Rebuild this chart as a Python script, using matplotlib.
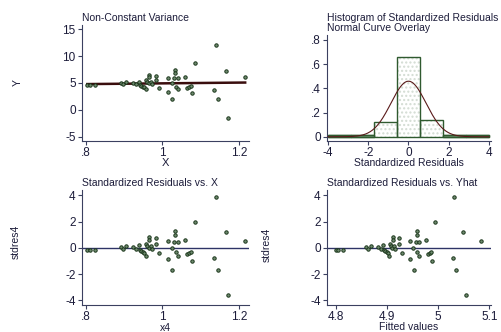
import matplotlib
matplotlib.use("Agg")
import matplotlib.pyplot as plt
import numpy as np

plt.rcParams["font.family"] = ["Liberation Sans", "DejaVu Sans"]

# ============================================================
# Data
# ============================================================
x4 = [0.804, 0.811, 0.824, 0.891, 0.896, 0.905, 0.924, 0.932, 0.939, 0.941,
      0.945, 0.949, 0.953, 0.956, 0.958, 0.960, 0.964, 0.966, 0.966, 0.969,
      0.973, 0.982, 0.982, 0.992, 1.015, 1.015, 1.024, 1.026, 1.031, 1.033,
      1.034, 1.035, 1.040, 1.040, 1.059, 1.065, 1.070, 1.074, 1.077, 1.084,
      1.135, 1.139, 1.144, 1.165, 1.172, 1.216]
y = [4.55, 4.60, 4.60, 5.00, 4.75, 5.10, 5.05, 4.80, 5.25, 4.55,
     4.45, 4.35, 4.30, 3.80, 5.50, 5.15, 4.95, 6.40, 6.10, 5.20,
     4.80, 6.35, 5.50, 4.15, 5.85, 3.35, 4.95, 1.95, 5.85, 7.35,
     6.80, 4.35, 5.85, 3.85, 6.10, 4.15, 4.20, 4.40, 3.10, 8.65,
     3.65, 12.10, 1.95, 7.30, -1.50, 6.05]
stdres4 = [-0.15, -0.15, -0.14, 0.06, -0.11, 0.11, 0.06, -0.06, 0.19, -0.19,
           -0.26, -0.30, -0.36, -0.60, 0.31, 0.11, 0.02, 0.80, 0.63, 0.15,
           -0.06, 0.76, 0.31, -0.43, 0.49, -0.88, 0.01, -1.65, 0.47, 1.27,
           0.97, -0.32, 0.47, -0.60, 0.60, -0.45, -0.42, -0.30, -1.02, 1.95,
           -0.75, 3.85, -1.70, 1.20, -3.60, 0.55]

# regression line Y = b0 + b1 * X
b0, b1 = 4.245, 0.69

# histogram of standardized residuals (density)
hist_edges = [-4.0, -2.857, -1.714, -0.571, 0.571, 1.714, 2.857, 4.0]
hist_dens = [0.016, 0.016, 0.12, 0.66, 0.14, 0.016, 0.016]
curve_mean, curve_sd = 0.0, 0.87

# ============================================================
# Styles
# ============================================================
TXT = "#1c1c3a"
AXC = "#3b4060"
PT_FACE = "#6f8c6f"
PT_EDGE = "#1a351a"
LINE_RED = "#3a0d0d"
REF_LINE = "#2e3366"
BAR_EDGE = "#2f5a2f"
TICK_FS = 8.5
LAB_FS = 7.5

W, H = 501, 332
fig = plt.figure(figsize=(W / 100, H / 100), dpi=100)


def add_ax(left, top, right, bottom):
    return fig.add_axes([left / W, 1 - bottom / H, (right - left) / W, (bottom - top) / H])


def style(ax):
    for s in ["top", "right"]:
        ax.spines[s].set_visible(False)
    for s in ["left", "bottom"]:
        ax.spines[s].set_color(AXC)
        ax.spines[s].set_linewidth(0.8)
    ax.tick_params(colors=AXC, labelcolor=TXT, labelsize=TICK_FS, length=3, width=0.8, pad=1.5)


def scatter(ax, xs, ys):
    ax.scatter(xs, ys, s=6, facecolor=PT_FACE, edgecolor=PT_EDGE, linewidths=0.7, zorder=3)


x4 = np.array(x4)
fitted = b0 + b1 * x4

# ------------------------------------------------------------
# Top-left: Y vs X with fit
# ------------------------------------------------------------
ax = add_ax(82, 25, 249, 141)
style(ax)
scatter(ax, x4, y)
xs = np.array([x4.min(), x4.max()])
ax.plot(xs, b0 + b1 * xs, color=LINE_RED, linewidth=1.8, zorder=2)
ax.set_xlim(0.79, 1.226)
ax.set_ylim(-5.75, 15.75)
ax.set_xticks([0.8, 1.0, 1.2], [".8", "1", "1.2"])
ax.set_yticks([-5, 0, 5, 10, 15], ["-5", "0", "5", "10", "15"])
ax.set_title("Non-Constant Variance", loc="left", fontsize=LAB_FS, color=TXT, pad=3)
ax.set_xlabel("X", fontsize=LAB_FS + 0.5, color=TXT, labelpad=-1)
fig.text(18 / W, 1 - 82 / H, "Y", rotation=90, fontsize=LAB_FS, color=TXT, ha="center", va="center")

# ------------------------------------------------------------
# Top-right: histogram with normal curve
# ------------------------------------------------------------
ax = add_ax(327, 35, 491, 141)
style(ax)
lefts = np.array(hist_edges[:-1])
widths = np.diff(hist_edges)
ax.bar(lefts, hist_dens, width=widths, align="edge", facecolor="white",
       edgecolor="#d3dcd3", hatch="....", linewidth=0, zorder=1)
ax.bar(lefts, hist_dens, width=widths, align="edge", facecolor="none",
       edgecolor=BAR_EDGE, linewidth=1.0, zorder=2)
for l, w, h in zip(lefts, widths, hist_dens):
    if h < 0.05:
        ax.bar(l, h, width=w, align="edge", facecolor="#6f8f6f", edgecolor=BAR_EDGE,
               linewidth=1.0, zorder=2)
g = np.linspace(hist_edges[0], hist_edges[-1], 300)
dens = np.exp(-0.5 * ((g - curve_mean) / curve_sd) ** 2) / (curve_sd * np.sqrt(2 * np.pi))
ax.plot(g, dens, color="#5a1a1a", linewidth=0.8, zorder=3)
ax.set_xlim(-4.05, 4.1)
ax.set_ylim(-0.035, 0.84)
ax.set_xticks([-4, -2, 0, 2, 4], ["-4", "-2", "0", "2", "4"])
ax.set_yticks([0, 0.2, 0.4, 0.6, 0.8], ["0", ".2", ".4", ".6", ".8"])
ax.set_title("Histogram of Standardized Residuals\nNormal Curve Overlay", loc="left",
             fontsize=LAB_FS, color=TXT, pad=3, linespacing=0.95)
ax.set_xlabel("Standardized Residuals", fontsize=LAB_FS, color=TXT, labelpad=-1)

# ------------------------------------------------------------
# Bottom-left: stdres vs x4
# ------------------------------------------------------------
ax = add_ax(82, 190, 249, 305)
style(ax)
ax.axhline(0, color=REF_LINE, linewidth=1.0, zorder=2)
scatter(ax, x4, stdres4)
ax.set_xlim(0.79, 1.226)
ax.set_ylim(-4.35, 4.4)
ax.set_xticks([0.8, 1.0, 1.2], [".8", "1", "1.2"])
ax.set_yticks([-4, -2, 0, 2, 4], ["-4", "-2", "0", "2", "4"])
ax.set_title("Standardized Residuals vs. X", loc="left", fontsize=LAB_FS, color=TXT, pad=3)
ax.set_xlabel("x4", fontsize=LAB_FS, color=TXT, labelpad=0)
fig.text(16 / W, 1 - 242 / H, "stdres4", rotation=90, fontsize=LAB_FS, color=TXT, ha="center", va="center")

# ------------------------------------------------------------
# Bottom-right: stdres vs fitted
# ------------------------------------------------------------
ax = add_ax(327, 190, 491, 305)
style(ax)
ax.axhline(0, color=REF_LINE, linewidth=1.0, zorder=2)
scatter(ax, fitted, stdres4)
ax.set_xlim(4.783, 5.103)
ax.set_ylim(-4.35, 4.4)
ax.set_xticks([4.8, 4.9, 5.0, 5.1], ["4.8", "4.9", "5", "5.1"])
ax.set_yticks([-4, -2, 0, 2, 4], ["-4", "-2", "0", "2", "4"])
ax.set_title("Standardized Residuals vs. Yhat", loc="left", fontsize=LAB_FS, color=TXT, pad=3)
ax.set_xlabel("Fitted values", fontsize=LAB_FS, color=TXT, labelpad=-1)
fig.text(267 / W, 1 - 245 / H, "stdres4", rotation=90, fontsize=LAB_FS, color=TXT, ha="center", va="center")

fig.savefig("out.png", dpi=100, facecolor="white")
